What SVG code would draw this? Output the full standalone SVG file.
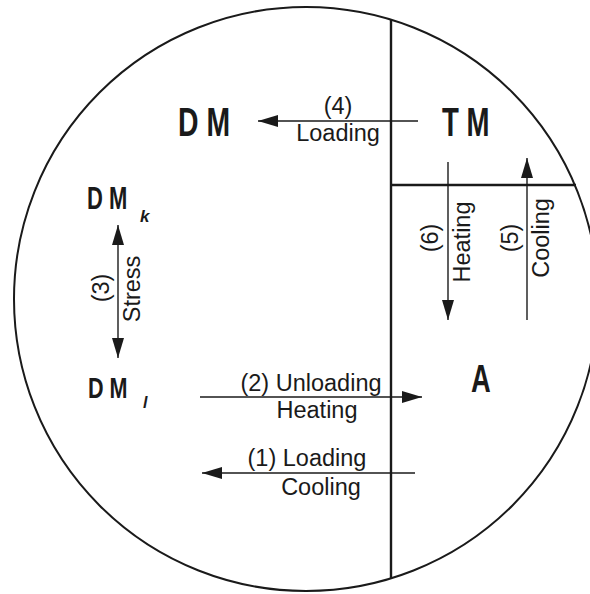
<svg xmlns="http://www.w3.org/2000/svg" width="590" height="594" viewBox="0 0 590 594">
<defs>
<style>
.lbl{font-family:"Liberation Sans",Arial,sans-serif;font-size:23.5px;fill:#1a1a1a}
.st{font-family:"Liberation Sans",Arial,sans-serif;font-weight:bold;fill:#1a1a1a}
.sub{font-family:"Liberation Sans",Arial,sans-serif;font-weight:bold;font-style:italic;fill:#1a1a1a}
.frame{fill:none;stroke:#1a1a1a;stroke-width:2}
.div{fill:none;stroke:#1a1a1a;stroke-width:2.4}
.arr{fill:none;stroke:#1a1a1a;stroke-width:1.4}
</style>
<marker id="ah" markerUnits="userSpaceOnUse" markerWidth="20" markerHeight="12" refX="20" refY="6" orient="auto-start-reverse">
<path d="M0,0 L20,6 L0,12 Z" fill="#1a1a1a"/>
</marker>
</defs>
<rect width="590" height="594" fill="#ffffff"/>
<g id="frame">
<circle class="frame" cx="306" cy="299" r="292"/>
<line class="div" x1="391" y1="20" x2="391" y2="578"/>
<line class="div" x1="391" y1="185" x2="576" y2="185"/>
</g>
<g id="connectors">
<line class="arr" x1="418" y1="121" x2="258" y2="121" marker-end="url(#ah)"/>
<line class="arr" x1="448" y1="162" x2="448" y2="320" marker-end="url(#ah)"/>
<line class="arr" x1="527" y1="320" x2="527" y2="158" marker-end="url(#ah)"/>
<line class="arr" x1="118" y1="225" x2="118" y2="358" marker-start="url(#ah)" marker-end="url(#ah)"/>
<line class="arr" x1="200" y1="397" x2="422" y2="397" marker-end="url(#ah)"/>
<line class="arr" x1="415" y1="473" x2="202" y2="473" marker-end="url(#ah)"/>
</g>
<g id="labels">
<text class="lbl" x="338" y="114" text-anchor="middle">(4)</text>
<text class="lbl" x="338" y="141" text-anchor="middle">Loading</text>
<text class="lbl" transform="translate(438,238) rotate(-90)" text-anchor="middle">(6)</text>
<text class="lbl" transform="translate(470,242) rotate(-90)" text-anchor="middle">Heating</text>
<text class="lbl" transform="translate(518,238) rotate(-90)" text-anchor="middle">(5)</text>
<text class="lbl" transform="translate(549,238) rotate(-90)" text-anchor="middle">Cooling</text>
<text class="lbl" transform="translate(109,288) rotate(-90)" text-anchor="middle">(3)</text>
<text class="lbl" transform="translate(140,289) rotate(-90)" text-anchor="middle">Stress</text>
<text class="lbl" x="311" y="391" text-anchor="middle">(2) Unloading</text>
<text class="lbl" x="317" y="418" text-anchor="middle">Heating</text>
<text class="lbl" x="307" y="466" text-anchor="middle">(1) Loading</text>
<text class="lbl" x="321" y="495" text-anchor="middle">Cooling</text>
</g>
<g id="DM">
<text class="st" transform="translate(178,136) scale(0.71,1)" font-size="40">D M</text>
</g>
<g id="TM">
<text class="st" transform="translate(442,136) scale(0.69,1)" font-size="40">T M</text>
</g>
<g id="DMk">
<text class="st" transform="translate(87,209) scale(0.71,1)" font-size="31">D M</text>
<text class="sub" x="140" y="222" font-size="17">k</text>
</g>
<g id="DMl">
<text class="st" transform="translate(88,398) scale(0.72,1)" font-size="30">D M</text>
<text class="sub" x="143" y="408" font-size="16">l</text>
</g>
<g id="A">
<text class="st" transform="translate(471,392) scale(0.72,1)" font-size="38">A</text>
</g>
</svg>
